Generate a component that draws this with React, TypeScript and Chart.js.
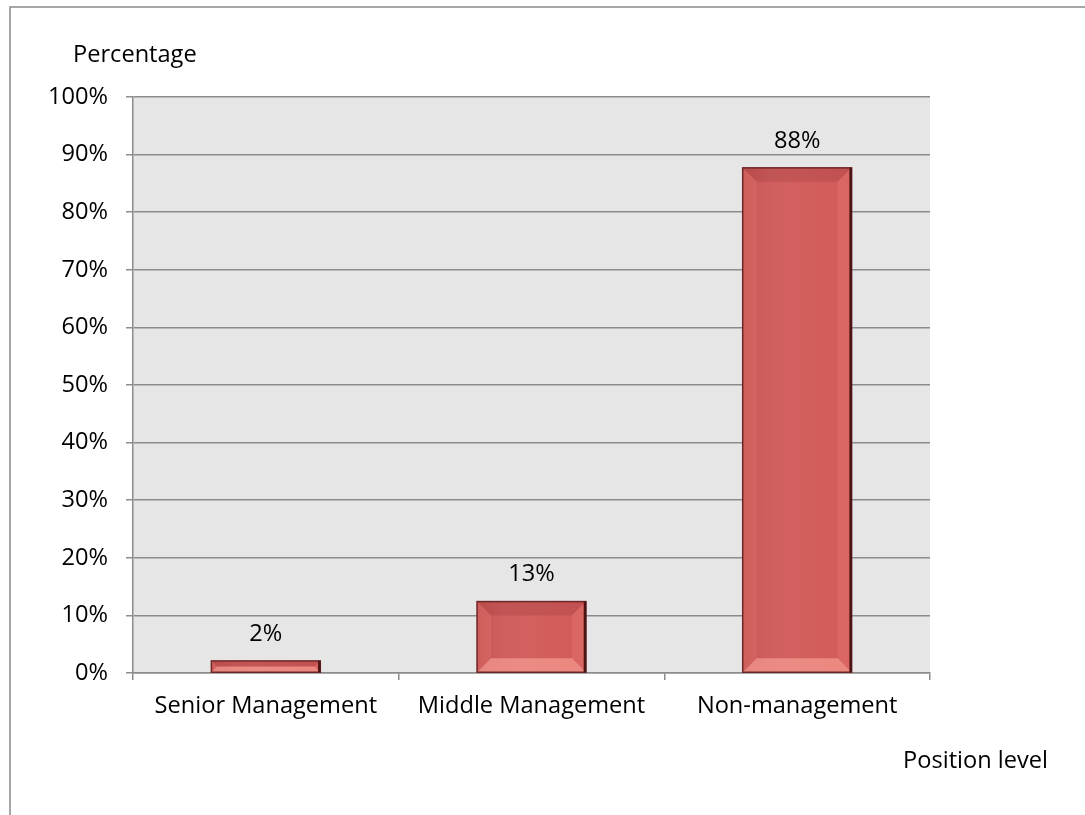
import React, { useEffect, useRef } from "react";
import { Chart, registerables } from "chart.js";

Chart.register(...registerables);

const categories = ["Senior Management", "Middle Management", "Non-management"];
const values = [2.1, 12.4, 87.7];
const valueLabels = ["2%", "13%", "88%"];
const yTicks = [0, 10, 20, 30, 40, 50, 60, 70, 80, 90, 100];
const yTitle = "Percentage";
const xTitle = "Position level";

const FONT = "'Open Sans', Lato, sans-serif";
const FS = 23.6;
const GRID = "#8c8c8c";

const decorPlugin = {
  id: "decor",
  beforeDraw(chart: any) {
    const { ctx, chartArea } = chart;
    ctx.save();
    ctx.fillStyle = "#ffffff";
    ctx.fillRect(0, 0, chart.width, chart.height);
    ctx.strokeStyle = "#8a8a8a";
    ctx.lineWidth = 1.5;
    ctx.beginPath();
    ctx.moveTo(10, chart.height);
    ctx.lineTo(10, 7);
    ctx.lineTo(chart.width, 7);
    ctx.stroke();
    ctx.fillStyle = "#e6e6e6";
    ctx.fillRect(chartArea.left, chartArea.top, chartArea.right - chartArea.left, chartArea.bottom - chartArea.top);
    ctx.restore();
  },
  afterDatasetsDraw(chart: any) {
    const { ctx, chartArea } = chart;
    const meta = chart.getDatasetMeta(0);
    ctx.save();
    meta.data.forEach((bar: any, i: number) => {
      const p = bar.getProps(["x", "y", "base", "width"], true);
      const l = p.x - p.width / 2;
      const r = p.x + p.width / 2;
      const t = p.y;
      const b = p.base;
      const h = b - t;
      const bw = Math.min(14, h / 2, p.width / 2);
      const il = l + bw, ir = r - bw, it = t + bw, ib = b - bw;
      const poly = (pts: number[][], color: string) => {
        ctx.beginPath();
        ctx.moveTo(pts[0][0], pts[0][1]);
        for (let k = 1; k < pts.length; k++) ctx.lineTo(pts[k][0], pts[k][1]);
        ctx.closePath();
        ctx.fillStyle = color;
        ctx.fill();
      };
      const g = ctx.createLinearGradient(l, 0, r, 0);
      g.addColorStop(0, "rgba(120,30,30,0.12)");
      g.addColorStop(0.5, "rgba(255,255,255,0.03)");
      g.addColorStop(1, "rgba(255,255,255,0)");
      ctx.fillStyle = g;
      ctx.fillRect(l, t, r - l, h);
      poly([[l, t], [r, t], [ir, it], [il, it]], "rgba(110,30,30,0.15)");
      poly([[l, b], [r, b], [ir, ib], [il, ib]], "rgba(255,175,160,0.55)");
      poly([[l, t], [il, it], [il, ib], [l, b]], "rgba(255,160,150,0.14)");
      poly([[r, t], [ir, it], [ir, ib], [r, b]], "rgba(255,160,150,0.18)");
      ctx.lineWidth = 1.5;
      ctx.strokeStyle = "#6e2626";
      ctx.strokeRect(l, t, r - l, h);
      ctx.lineWidth = 2.5;
      ctx.strokeStyle = "#4a1414";
      ctx.beginPath();
      ctx.moveTo(r - 1, t);
      ctx.lineTo(r - 1, b);
      ctx.stroke();
      ctx.fillStyle = "#000";
      ctx.font = `${FS}px ${FONT}`;
      ctx.textAlign = "center";
      ctx.textBaseline = "middle";
      ctx.fillText(valueLabels[i], p.x, t - 27);
    });
    ctx.fillStyle = "#000";
    ctx.font = `${FS}px ${FONT}`;
    ctx.textBaseline = "middle";
    ctx.textAlign = "left";
    ctx.fillText(yTitle, chartArea.left - 60, chartArea.top - 42);
    ctx.textAlign = "right";
    ctx.fillText(xTitle, chartArea.right + 118, chartArea.bottom + 88);
    ctx.restore();
  },
};

export default function App() {
  const ref = useRef<HTMLCanvasElement | null>(null);
  useEffect(() => {
    if (!ref.current) return;
    const chart = new Chart(ref.current, {
      type: "bar",
      data: {
        labels: categories,
        datasets: [
          {
            data: values,
            backgroundColor: "#d25a5a",
            borderWidth: 0,
            barPercentage: 0.41,
            categoryPercentage: 1,
          },
        ],
      },
      options: {
        responsive: false,
        animation: false,
        layout: { padding: { top: 97, right: 155, left: 0, bottom: 0 } },
        plugins: { legend: { display: false }, tooltip: { enabled: false }, title: { display: false } },
        scales: {
          x: {
            afterFit: (s: any) => { s.height = 142; },
            grid: { drawOnChartArea: false, drawTicks: true, tickLength: 7, color: GRID, lineWidth: 1.5 },
            border: { display: true, color: GRID, width: 1.5 },
            ticks: { color: "#000", font: { family: FONT, size: FS }, padding: 12, maxRotation: 0 },
          },
          y: {
            min: 0,
            max: 100,
            afterFit: (s: any) => { s.width = 133; },
            afterBuildTicks: (s: any) => { s.ticks = yTicks.map((v) => ({ value: v })); },
            grid: { color: GRID, lineWidth: 1.5, tickLength: 7, drawTicks: true },
            border: { display: true, color: GRID, width: 1.5 },
            ticks: {
              color: "#000",
              font: { family: FONT, size: FS },
              padding: 18,
              callback: (v: any) => `${v}%`,
            },
          },
        },
      },
      plugins: [decorPlugin],
    });
    return () => chart.destroy();
  }, []);
  return (
    <div style={{ position: "absolute", left: 0, top: 0, width: 1085, height: 815, overflow: "hidden" }}>
      <canvas ref={ref} width={1085} height={815} style={{ display: "block" }} />
    </div>
  );
}
